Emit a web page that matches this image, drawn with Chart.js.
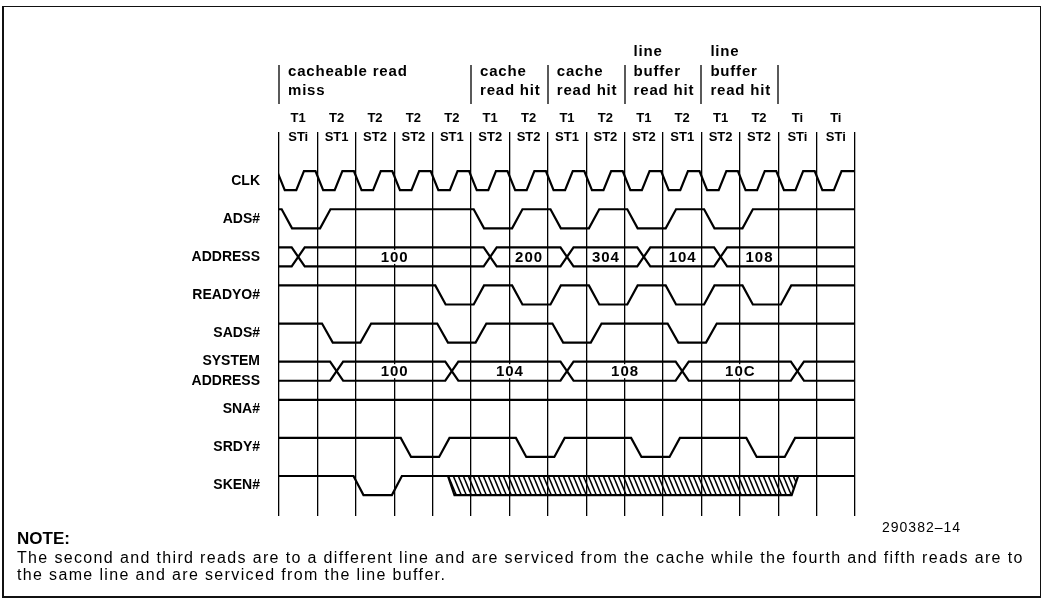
<!DOCTYPE html>
<html>
<head>
<meta charset="utf-8">
<title>Cache read timing</title>
<script src="https://cdn.jsdelivr.net/npm/chart.js@4.4.1/dist/chart.umd.min.js"></script>
<style>
  body { margin: 0; background: #fff; font-family: "Liberation Sans", Arial, sans-serif; color: #000; }
  #frame { position: absolute; left: 2px; top: 6px; width: 1039px; height: 592px; box-sizing: border-box;
           border: 2px solid #111; border-top-width: 1.5px; border-right-width: 1.5px; }
  #wrap { position: absolute; left: 0; top: 0; width: 1042px; height: 530px; }
  #fig { position: absolute; left: 882px; top: 519px; font-size: 14px; line-height: 16px; letter-spacing: 1px; }
  #note { position: absolute; left: 17px; top: 529px; white-space: nowrap; }
  #note b { display: block; font-size: 17px; line-height: 20px; }
  #note p { margin: 0; font-size: 16px; line-height: 17px; letter-spacing: 1.35px; }
</style>
</head>
<body>
<div id="frame"></div>
<div id="wrap"><canvas id="chart"></canvas></div>
<div id="fig">290382–14</div>
<div id="note"><b>NOTE:</b><p>The second and third reads are to a different line and are serviced from the cache while the fourth and fifth reads are to<br>the same line and are serviced from the line buffer.</p></div>
<script>
'use strict'

// bus states, one per clock
const tStates = ['T1', 'T2', 'T2', 'T2', 'T2', 'T1', 'T2', 'T1', 'T2', 'T1', 'T2', 'T1', 'T2', 'Ti', 'Ti'];
const stStates = ['STi', 'ST1', 'ST2', 'ST2', 'ST1', 'ST2', 'ST2', 'ST1', 'ST2', 'ST2', 'ST1', 'ST2', 'ST2', 'STi', 'STi'];

const signalNames = ['CLK', 'ADS#', 'ADDRESS', 'READYO#', 'SADS#', ['SYSTEM', 'ADDRESS'], 'SNA#', 'SRDY#', 'SKEN#'];

// 1 = high, 0 = low
const clkLevels = [0, 1, 0, 1, 0, 1, 0, 1, 0, 1, 0, 1, 0, 1, 0, 1, 0, 1, 0, 1, 0, 1, 0, 1, 0, 1, 0, 1, 0, 1]; // half clocks
const adsLevels = [0, 1, 1, 1, 1, 0, 1, 0, 1, 0, 1, 0, 1, 1, 1];
const readyoLevels = [1, 1, 1, 1, 0, 1, 0, 1, 0, 1, 0, 1, 0, 1, 1];
const sadsLevels = [1, 0, 1, 1, 0, 1, 1, 0, 1, 1, 0, 1, 1, 1, 1];
const snaLevels = [1, 1, 1, 1, 1, 1, 1, 1, 1, 1, 1, 1, 1, 1, 1];
const srdyLevels = [1, 1, 1, 0, 1, 1, 0, 1, 1, 0, 1, 1, 0, 1, 1];
const skenLevels = [1, 1, 0, 1, 1, 1, 1, 1, 1, 1, 1, 1, 1, 1, 1];

// bus changes (in clocks) and values
const addressCross = [0.5, 5.5, 7.5, 9.5, 11.5];
const addressValues = ['100', '200', '304', '104', '108'];
const addressValueAt = [3, 6.5, 8.5, 10.5, 12.5];
const sysAddrCross = [1.5, 4.5, 7.5, 10.5, 13.5];
const sysAddrValues = ['100', '104', '108', '10C'];
const sysAddrValueAt = [3, 6, 9, 12];

// SKEN# don't-care window
const skenUnknown = [4.4, 13.52];

// read cycle headings
const groupStarts = [0, 5, 7, 9, 11];
const groupEnd = 13;
const groupLabels = [
  ['cacheable read', 'miss'],
  ['cache', 'read hit'],
  ['cache', 'read hit'],
  ['line', 'buffer', 'read hit'],
  ['line', 'buffer', 'read hit']
];

const SWING = 0.5;
const FONT = '"Liberation Sans", Arial, sans-serif';

function wave(levels, row, step, delay, dur) {
  const hi = row, lo = row + SWING;
  let prev = 1;
  const pts = [{x: -0.2, y: hi}];
  levels.forEach((lv, i) => {
    if (lv !== prev) {
      const t = i * step + delay;
      pts.push({x: t, y: prev ? hi : lo});
      pts.push({x: t + dur, y: lv ? hi : lo});
      prev = lv;
    }
  });
  pts.push({x: 15.2, y: prev ? hi : lo});
  return pts;
}

function bus(cross, row) {
  const hi = row, lo = row + SWING, h = 0.17;
  const a = [{x: -0.2, y: hi}], b = [{x: -0.2, y: lo}];
  let up = true;
  cross.forEach(c => {
    a.push({x: c - h, y: up ? hi : lo}, {x: c + h, y: up ? lo : hi});
    b.push({x: c - h, y: up ? lo : hi}, {x: c + h, y: up ? hi : lo});
    up = !up;
  });
  a.push({x: 15.2, y: up ? hi : lo});
  b.push({x: 15.2, y: up ? lo : hi});
  return [a, b];
}

function hatch() {
  const c = document.createElement('canvas');
  c.width = 5; c.height = 12;
  const g = c.getContext('2d');
  g.strokeStyle = '#000';
  g.lineWidth = 1.6;
  [-5, 0, 5].forEach(dx => {
    g.beginPath(); g.moveTo(dx, 0); g.lineTo(dx + 5, 12); g.stroke();
  });
  return g.createPattern(c, 'repeat');
}

const addrBus = bus(addressCross, 2);
const sysBus = bus(sysAddrCross, 5);

const traces = [
  wave(clkLevels, 0, 0.5, -0.05, 0.2),
  wave(adsLevels, 1, 1, 0.07, 0.27),
  addrBus[0], addrBus[1],
  wave(readyoLevels, 3, 1, 0.07, 0.27),
  wave(sadsLevels, 4, 1, 0.12, 0.28),
  sysBus[0], sysBus[1],
  wave(snaLevels, 6, 1, 0, 0.27),
  wave(srdyLevels, 7, 1, 0.17, 0.27),
  wave(skenLevels, 8, 1, -0.06, 0.26)
];

const datasets = traces.map(d => ({data: d, xAxisID: 'x', yAxisID: 'y', fill: false}));
datasets.push({
  data: [
    {x: skenUnknown[0], y: 8}, {x: skenUnknown[0] + 0.17, y: 8 + SWING},
    {x: skenUnknown[1] - 0.17, y: 8 + SWING}, {x: skenUnknown[1], y: 8}
  ],
  xAxisID: 'x', yAxisID: 'y',
  fill: {value: 8},
  backgroundColor: hatch()
});

const headerPlugin = {
  id: 'headers',
  afterDraw(chart) {
    const {ctx, scales: {x, xt}} = chart;
    const base = xt.bottom - 14;   // top of the state row
    ctx.save();
    ctx.strokeStyle = '#000';
    ctx.lineWidth = 1.3;
    groupStarts.concat([groupEnd]).forEach(t => {
      const px = Math.round(x.getPixelForValue(t));
      ctx.beginPath(); ctx.moveTo(px, base - 67); ctx.lineTo(px, base - 28); ctx.stroke();
    });
    ctx.fillStyle = '#000';
    ctx.font = 'bold 15px ' + FONT;
    ctx.letterSpacing = '0.8px';
    ctx.textAlign = 'left';
    ctx.textBaseline = 'middle';
    groupLabels.forEach((lines, g) => {
      const px = x.getPixelForValue(groupStarts[g]) + 9;
      lines.forEach((s, i) => ctx.fillText(s, px, base - 41 - (lines.length - 1 - i) * 19.5));
    });
    ctx.restore();
  }
};

const busTextPlugin = {
  id: 'busText',
  afterDatasetsDraw(chart) {
    const {ctx, scales: {x, y}} = chart;
    ctx.save();
    ctx.font = 'bold 15px ' + FONT;
    ctx.letterSpacing = '1px';
    ctx.textAlign = 'center';
    ctx.textBaseline = 'middle';
    const put = (vals, at, row) => vals.forEach((s, i) => {
      const px = x.getPixelForValue(at[i]);
      const py = y.getPixelForValue(row + SWING / 2);
      const w = ctx.measureText(s).width + 4;
      ctx.fillStyle = '#fff';
      ctx.fillRect(px - w / 2, py - 7, w, 14);
      ctx.fillStyle = '#000';
      ctx.fillText(s, px + 0.5, py + 1);
    });
    put(addressValues, addressValueAt, 2);
    put(sysAddrValues, sysAddrValueAt, 5);
    ctx.restore();
  }
};

const ctx = document.getElementById('chart');
new Chart(ctx, {
  type: 'line',
  data: { datasets: datasets },
  options: {
    animation: false,
    responsive: true,
    maintainAspectRatio: false,
    layout: { padding: { left: 129, right: 187, top: 106, bottom: 14 } },
    elements: {
      point: { radius: 0 },
      line: { borderColor: '#000', borderWidth: 2.2, tension: 0 }
    },
    plugins: {
      legend: { display: false },
      tooltip: { enabled: false }
    },
    scales: {
      x: {
        type: 'linear', min: 0, max: 15,
        ticks: { display: false, stepSize: 1 },
        grid: { color: '#000', lineWidth: 1.3, drawTicks: false },
        border: { display: false },
        afterFit: s => { s.height = 0; }
      },
      xt: {
        type: 'category', position: 'top',
        labels: tStates.map((t, i) => [t, stStates[i]]),
        offset: true,
        grid: { offset: true, color: '#000', lineWidth: 1.3, drawOnChartArea: false, drawTicks: true, tickLength: 14 },
        border: { display: false },
        ticks: {
          color: '#000', padding: -14.5, maxRotation: 0, autoSkip: false,
          font: { family: FONT, size: 13, weight: 'bold', lineHeight: 1.45 }
        },
        afterFit: s => { s.height = 40; }
      },
      y: {
        type: 'linear', reverse: true, min: -0.66, max: 9.05,
        grid: { display: false, drawTicks: false },
        border: { display: false },
        afterBuildTicks: s => { s.ticks = signalNames.map((n, r) => ({ value: r + SWING / 2 })); },
        ticks: {
          color: '#000', padding: 19,
          font: { family: FONT, size: 14, weight: 'bold', lineHeight: 1.43 },
          callback: (v, i) => signalNames[i]
        },
        afterFit: s => { s.width = 150; s.paddingTop = 0; s.paddingBottom = 0; }
      }
    }
  },
  plugins: [headerPlugin, busTextPlugin]
});
</script>
</body>
</html>
